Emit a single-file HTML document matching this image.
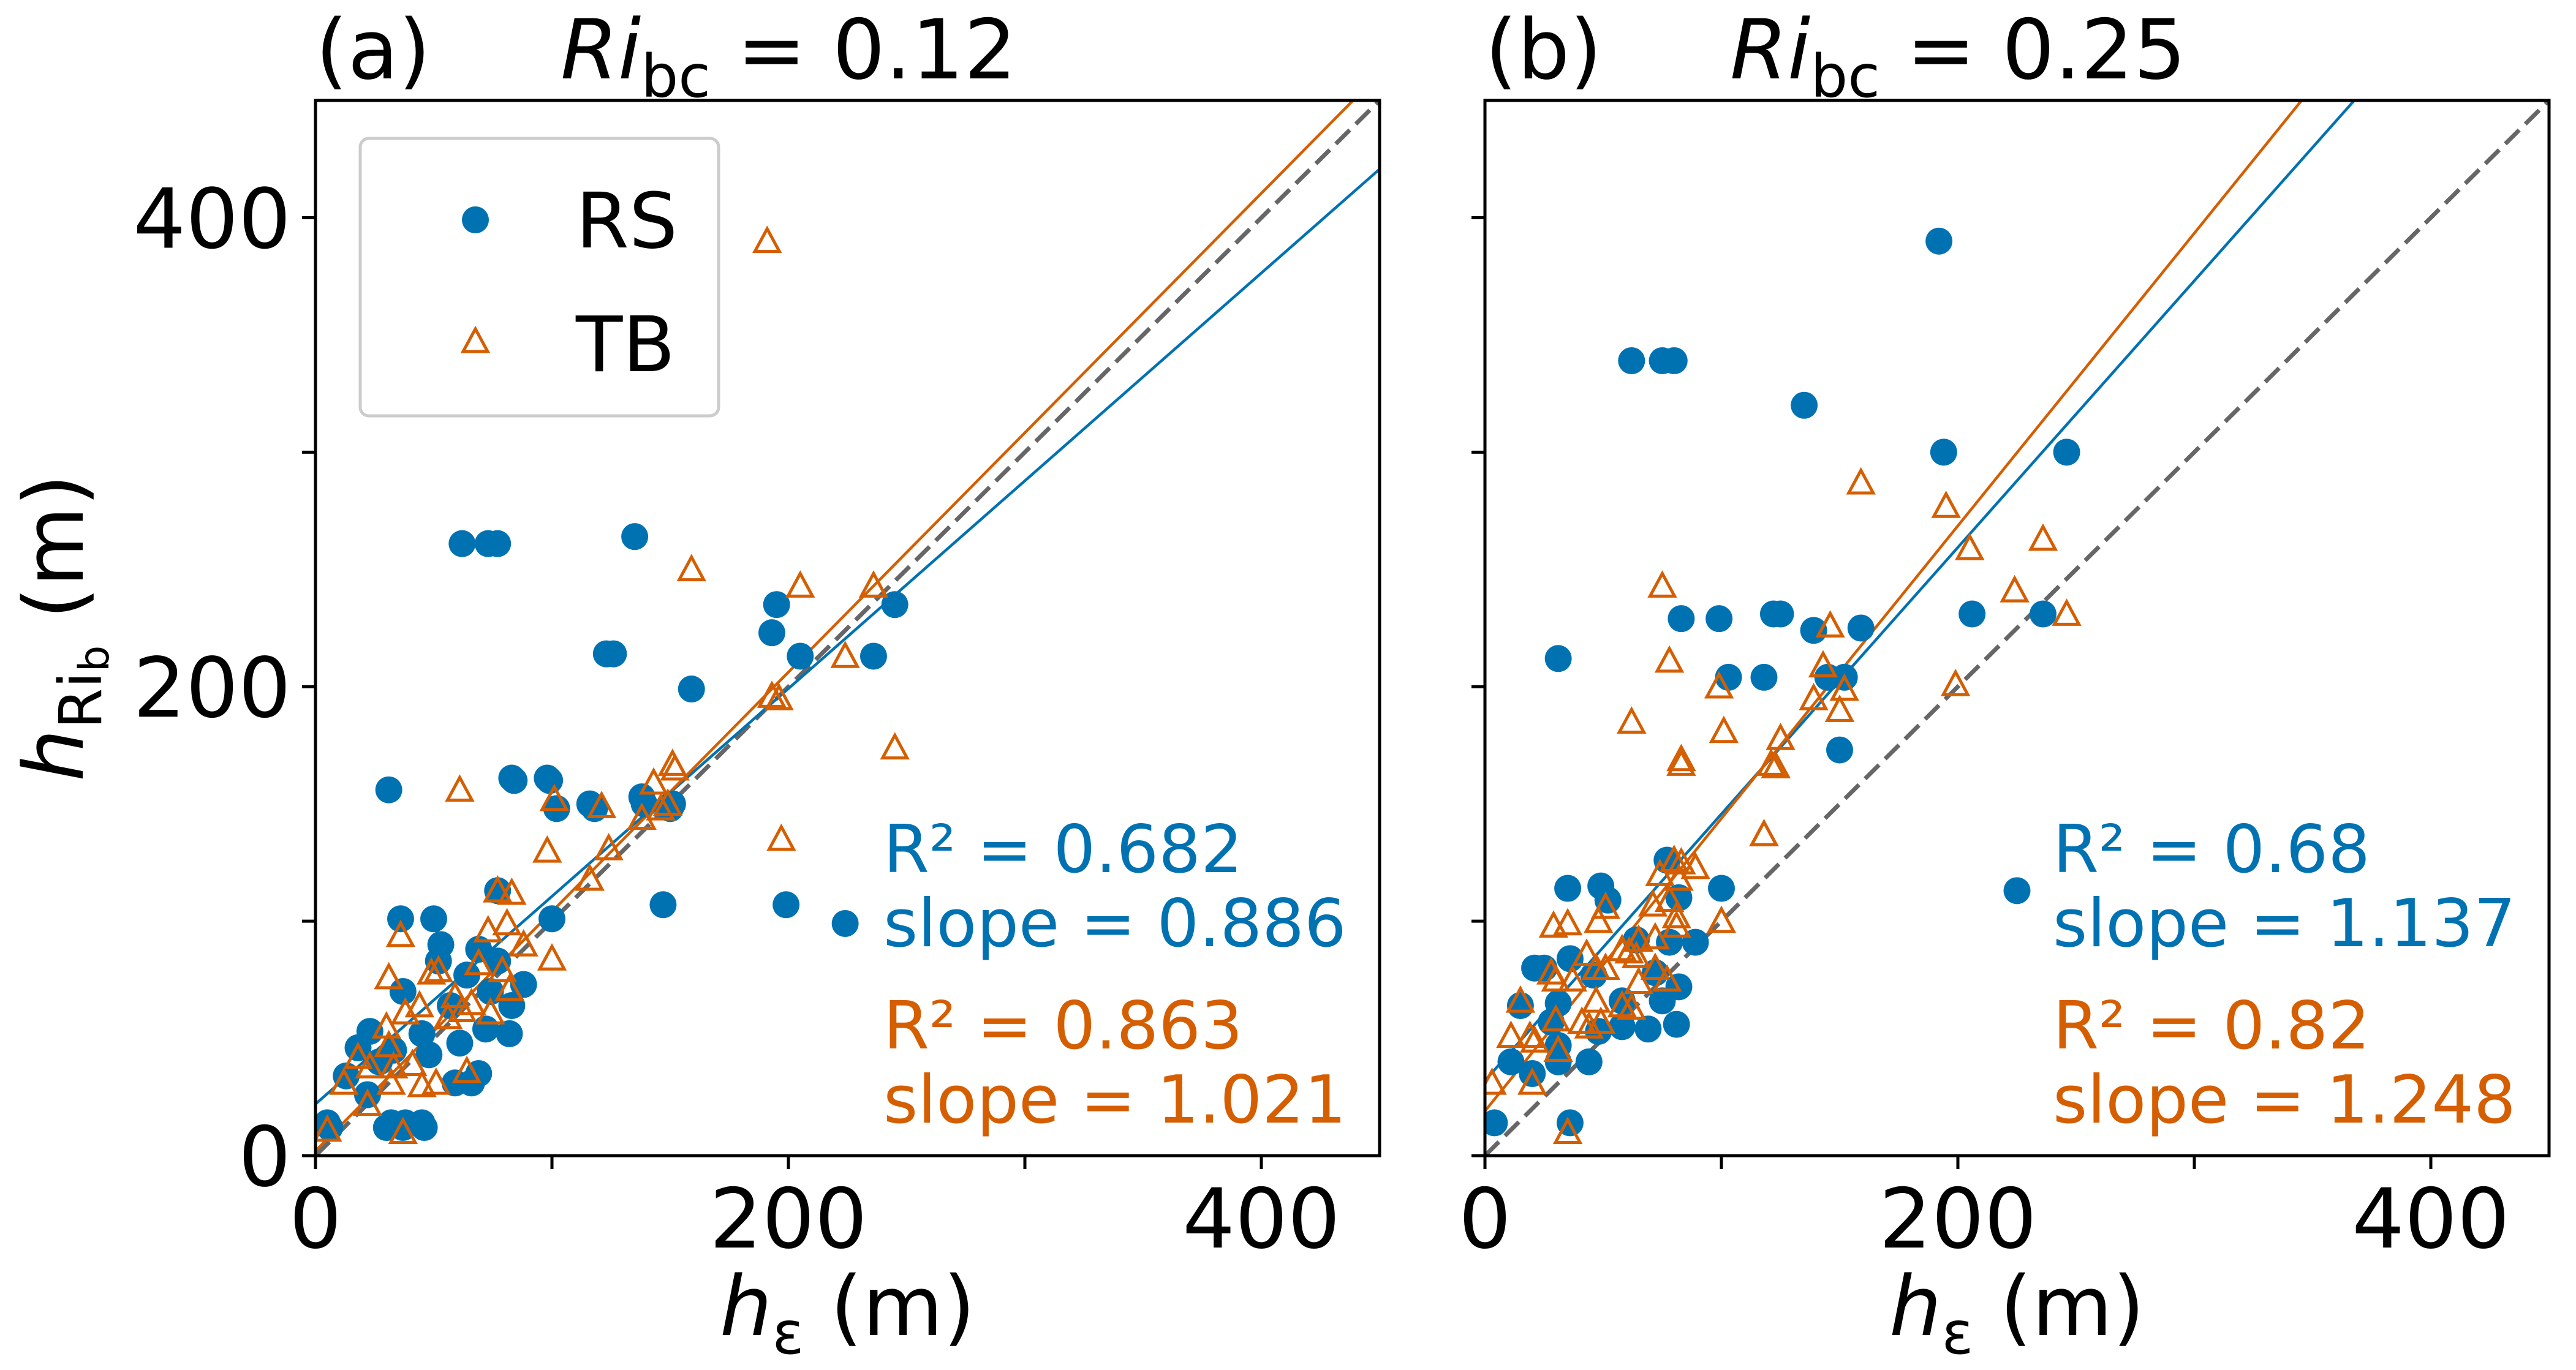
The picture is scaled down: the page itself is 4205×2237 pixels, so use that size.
<!DOCTYPE html>
<html><head><meta charset="utf-8">
<style>
html,body{margin:0;padding:0;background:#fff;}
svg{display:block;}
text{font-family:"DejaVu Sans","Liberation Sans",sans-serif;}
</style></head>
<body>
<svg id="chart" width="4205" height="2237" viewBox="0 0 4205 2237" xmlns="http://www.w3.org/2000/svg">
<defs>
<clipPath id="clipA"><rect x="515" y="164" width="1737" height="1723"/></clipPath>
<clipPath id="clipB"><rect x="2424" y="164" width="1737" height="1723"/></clipPath>
</defs>
<g id="panels"></g>
</svg>
<script>
// ---- data (h_eps in m, h_Rib in m) ----
const aRSx=[6,30,37,46,31,62,73,77,135,84,99,118,123,126,139,150,159,147,199,224,193,195,205,236,245,102,100,83,98,116,138,151,36,50,53,52,77,37,88,83,82,72,61,48,45,23,18,13,22,69,59,66,5,32,38,45,69,77,64,74,57,33,27];
const aRSy=[12,12,12,12,156,261,261,261,264,160,160,148,214,214,150,148,199,107,107,99,223,235,213,213,235,148,101,161,161,150,153,150,101,101,90,83,113,70,73,64,52,54,48,43,52,53,46,34,26,35,31,31,14,14,14,14,88,83,77,70,64,45,40];
const aTBx=[61,101,121,143,151,138,146,149,197,193,98,124,116,77,83,36,31,100,73,81,88,49,52,69,79,59,66,44,38,30,56,62,74,82,31,18,23,33,12,32,41,45,51,64,22,5,37,191,159,205,236,224,245,196,152];
const aTBy=[155,151,148,158,166,143,147,149,134,195,129,130,117,112,111,93,75,83,95,98,89,77,78,81,78,67,64,63,60,54,58,61,60,70,46,41,37,37,30,30,38,29,30,35,21,10,9,389,249,242,242,212,173,194,164];
const bRSx=[192,62,75,80,135,194,246,31,83,99,122,125,139,159,103,118,145,152,150,206,236,225,35,49,52,77,82,100,89,78,36,21,25,15,31,64,82,72,75,81,69,58,48,28,31,11,20,31,44,4,36,58,46];
const bRSy=[390,339,339,339,320,300,300,212,229,229,231,231,224,225,204,204,204,204,173,231,231,113,114,115,109,126,110,114,91,91,84,80,80,64,65,92,72,78,66,56,54,55,53,57,47,40,35,40,40,14,14,66,77];
const bTBx=[159,195,205,236,224,246,75,78,62,99,101,83,125,121,118,146,143,139,152,150,199,100,83,123,118,80,83,89,74,82,51,48,29,35,71,78,81,81,72,65,58,61,64,43,28,30,37,47,51,72,77,65,47,15,30,41,44,49,58,62,11,19,21,31,3,20,35];
const bTBy=[286,276,258,262,240,230,242,210,184,199,180,168,177,166,136,225,208,194,198,189,200,99,166,165,136,125,124,122,119,117,105,99,97,98,106,108,101,97,92,91,87,86,84,85,77,74,74,79,79,79,74,73,65,65,57,56,54,56,63,62,50,50,48,44,30,30,9];
// fit parameters: [slope, intercept]
const aFitRS=[0.886,22], aFitTB=[1.021,2];
const bFitRS=[1.137,32], bFitTB=[1.248,19];
const stats={a:["R² = 0.682","slope = 0.886","R² = 0.863","slope = 1.021"],b:["R² = 0.68","slope = 1.137","R² = 0.82","slope = 1.248"]};
const ticks=[0,100,200,300,400];
const tickLabels=["0","","200","","400"];

const NS="http://www.w3.org/2000/svg";
const BLUE="#0072B2",ORANGE="#D55E00";
const root=document.getElementById('panels');
function mk(tag,attrs,parent){const e=document.createElementNS(NS,tag);for(const k in attrs)e.setAttribute(k,attrs[k]);(parent||root).appendChild(e);return e;}

function panel(id,left,rsx,rsy,tbx,tby,fitRS,fitTB,st,letter,ri,showY){
  const W=1737,top=164,bottom=1887,H=bottom-top;
  const sx=v=>left+v*W/450, sy=v=>bottom-v*H/450;
  const g=mk('g',{});
  
  
  const pg=mk('g',{'clip-path':'url(#clip'+id.toUpperCase()+')'},g);
  const one=mk('line',{x1:sx(0),y1:sy(0),x2:sx(450),y2:sy(450),stroke:'#666',"stroke-width":7,"stroke-dasharray":"32,14"},pg);
  
  
  [[fitRS,BLUE,'fit-line-rs'],[fitTB,ORANGE,'fit-line-tb']].forEach(([f,c,n])=>{
    const l=mk('line',{x1:sx(0),y1:sy(f[1]),x2:sx(450),y2:sy(f[1]+f[0]*450),stroke:c,"stroke-width":4.5},pg);
    
    
  });
  for(let i=0;i<rsx.length;i++){
    const c=mk('circle',{cx:sx(rsx[i]),cy:sy(rsy[i]),r:22,fill:BLUE},pg);
    
    
  }
  for(let i=0;i<tbx.length;i++){
    const x=sx(tbx[i]),y=sy(tby[i]);
    const t=mk('polygon',{points:`${x},${y-24} ${x+20},${y+13} ${x-20},${y+13}`,fill:'none',stroke:ORANGE,"stroke-width":5},pg);
    
    
  }
  const fr=mk('rect',{x:left,y:top,width:W,height:H,fill:'none',stroke:'#000',"stroke-width":5},g);
  
  
  ticks.forEach((v,i)=>{
    mk('line',{x1:sx(v),y1:bottom,x2:sx(v),y2:bottom+22,stroke:'#000',"stroke-width":5},g);
    mk('line',{x1:left,y1:sy(v),x2:left-22,y2:sy(v),stroke:'#000',"stroke-width":5},g);
    if(tickLabels[i]){
      const xt=mk('text',{x:sx(v),y:bottom+150,"font-size":135,"text-anchor":"middle"},g);
      xt.textContent=tickLabels[i];
      
      
      if(showY){
        const yt=mk('text',{x:left-40,y:sy(v)+49,"font-size":135,"text-anchor":"end"},g);
        yt.textContent=tickLabels[i];
        
        
      }
    }
  });
  const sxT=left+927;
  [[st[0],1424,BLUE],[st[1],1545,BLUE],[st[2],1712,ORANGE],[st[3],1833,ORANGE]].forEach(([s,y,c])=>{
    const t=mk('text',{x:sxT,y:y,"font-size":108,fill:c},g);
    t.textContent=s;
    
    
  });
  const pl=mk('text',{x:left,y:128,"font-size":135},g);
  pl.textContent=letter;
  
  
  const ti=mk('text',{x:left+400,y:128,"font-size":135},g);
  ti.innerHTML='<tspan font-style="italic">Ri</tspan><tspan font-size="96" dy="30">bc</tspan><tspan dy="-30"> = '+ri+'</tspan>';
  
  
  const xl=mk('text',{x:left+W/2,y:2180,"font-size":135,"text-anchor":"middle"},g);
  xl.innerHTML='<tspan font-style="italic">h</tspan><tspan font-size="96" dy="30">ε</tspan><tspan dy="-30"> (m)</tspan>';
  
  
}
panel('a',515,aRSx,aRSy,aTBx,aTBy,aFitRS,aFitTB,stats.a,'(a)','0.12',true);
panel('b',2424,bRSx,bRSy,bTBx,bTBy,bFitRS,bFitTB,stats.b,'(b)','0.25',false);

const yl=mk('text',{transform:'translate(135,1025) rotate(-90)',"font-size":135,"text-anchor":"middle"});
yl.innerHTML='<tspan font-style="italic">h</tspan><tspan font-size="96" dy="30">Ri</tspan><tspan font-size="68" dy="12">b</tspan><tspan dy="-42"> (m)</tspan>';



const lg=mk('g',{});


mk('rect',{x:588,y:226,width:585,height:453,rx:14,fill:'#fff',stroke:'#ccc',"stroke-width":5},lg);
const le1=mk('circle',{cx:776,cy:359,r:22,fill:BLUE},lg);


const le2=mk('polygon',{points:'776,537 796,574 756,574',fill:'none',stroke:ORANGE,"stroke-width":5},lg);


const lt1=mk('text',{x:940,y:404,"font-size":125},lg);lt1.textContent='RS';


const lt2=mk('text',{x:940,y:606,"font-size":125},lg);lt2.textContent='TB';


</script>
</body></html>
